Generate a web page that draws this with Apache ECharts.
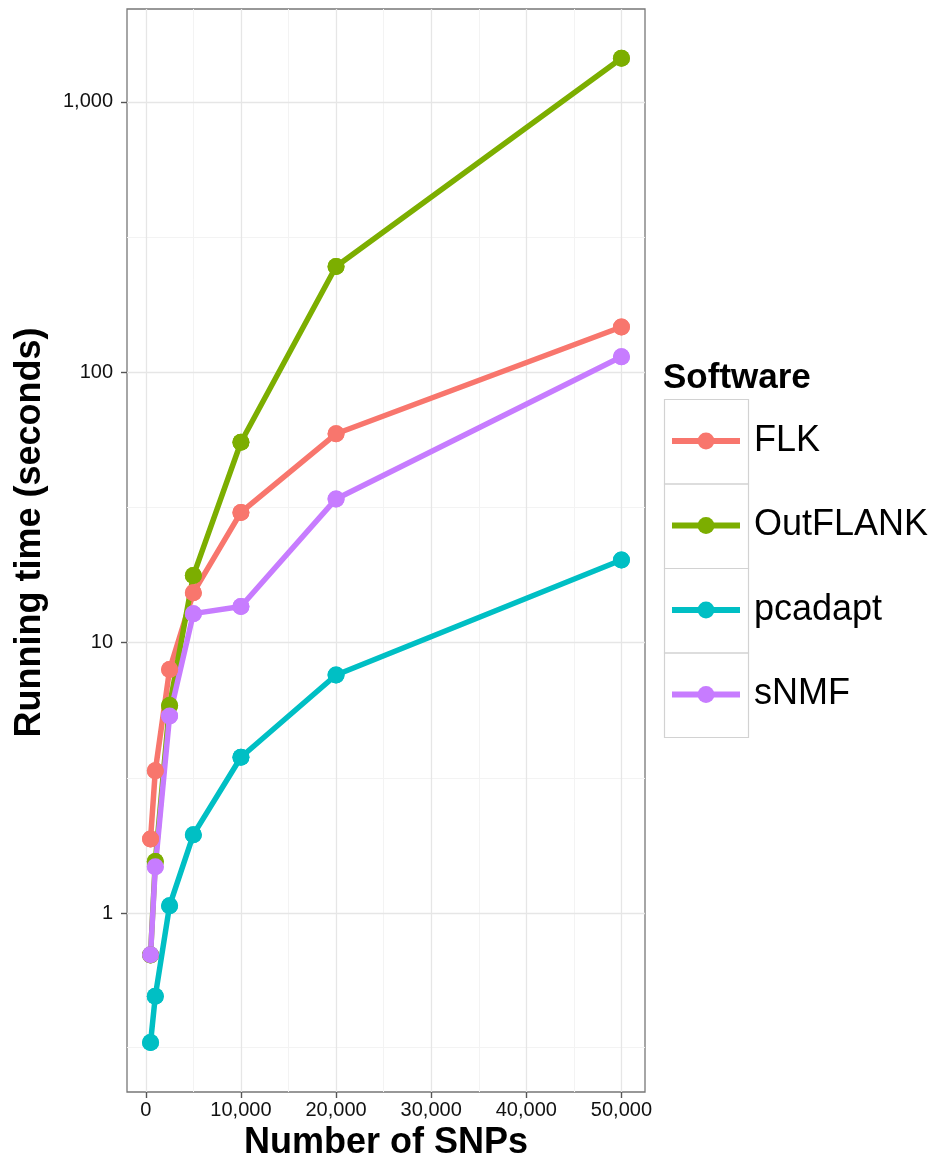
<!DOCTYPE html>
<html><head><meta charset="utf-8">
<script src="https://cdn.jsdelivr.net/npm/echarts@6/dist/echarts.min.js"></script>
<style>html,body{margin:0;padding:0;background:#fff}#c{width:935px;height:1168px}</style>
</head><body><div id="c"></div><script>
// ---- data ----
const snps = [500, 1000, 2500, 5000, 10000, 20000, 50000];
const software = ['FLK', 'OutFLANK', 'pcadapt', 'sNMF'];
const flk = [1.88, 3.36, 7.95, 15.3, 30.3, 59.2, 147];
const outflank = [0.70, 1.55, 5.85, 17.7, 55.1, 246, 1449];
const pcadapt = [0.332, 0.493, 1.065, 1.95, 3.77, 7.59, 20.2];
const snmf = [0.701, 1.485, 5.35, 12.8, 13.6, 34.0, 114];
const xTicks = [0, 10000, 20000, 30000, 40000, 50000];
const xMinor = [5000, 15000, 25000, 35000, 45000];
const yTicks = [1, 10, 100, 1000];
const yMinor = [0.3162, 3.162, 31.62, 316.2];
const colors = ['#F8766D', '#7CAE00', '#00BFC4', '#C77CFF'];
const values = [flk, outflank, pcadapt, snmf];

const FONT = 'Liberation Sans, Arial, Helvetica, sans-serif';
const chart = echarts.init(document.getElementById('c'), null, {renderer: 'canvas'});

const pairs = v => snps.map((x, i) => [x, v[i]]);
const series = [];
const gl = [];
xMinor.forEach(v => gl.push({xAxis: v, lineStyle: {color: '#F3F3F3', width: 1}}));
yMinor.forEach(v => gl.push({yAxis: v, lineStyle: {color: '#F3F3F3', width: 1}}));
xTicks.forEach(v => gl.push({xAxis: v, lineStyle: {color: '#E6E6E6', width: 1.3}}));
yTicks.forEach(v => gl.push({yAxis: v, lineStyle: {color: '#E6E6E6', width: 1.3}}));
series.push({
  type: 'line', name: '__grid', data: [], z: 0, silent: true,
  markLine: {silent: true, symbol: 'none', z: 0, animation: false,
    label: {show: false}, lineStyle: {type: 'solid'}, data: gl}
});
software.forEach((s, i) => {
  series.push({
    type: 'line', name: s, data: pairs(values[i]), z: 2,
    symbol: 'circle', symbolSize: 17, showSymbol: true,
    lineStyle: {width: 5.5, color: colors[i]},
    itemStyle: {color: colors[i]},
    emphasis: {disabled: true}
  });
});
software.forEach((s, i) => {
  series.push({
    type: 'scatter', name: s, data: pairs(values[i]), z: 3,
    symbol: 'circle', symbolSize: 17,
    itemStyle: {color: colors[i], opacity: 1},
    emphasis: {disabled: true}
  });
});

chart.setOption({
  animation: false,
  backgroundColor: '#ffffff',
  color: colors,
  textStyle: {fontFamily: FONT},
  grid: {left: 127, right: 290, top: 9, bottom: 76, show: true,
    borderColor: '#777777', borderWidth: 1.3, backgroundColor: 'transparent', containLabel: false},
  title: {text: 'Software', left: 663, top: 361, padding: 0,
    textStyle: {fontFamily: FONT, fontSize: 35, fontWeight: 'bold', color: '#000'}},
  legend: {
    orient: 'vertical', left: 669, top: 419, data: software, selectedMode: false,
    itemWidth: 68, itemHeight: 21, itemGap: 40.5, padding: 0,
    lineStyle: {width: 6},
    textStyle: {fontFamily: FONT, fontSize: 36, color: '#000', lineHeight: 44, padding: [0, 0, 0, 9]}
  },
  graphic: software.map((s, i) => ({
    type: 'rect', z: 0, silent: true,
    shape: {x: 664.5, y: 399.5 + 84.5 * i, width: 84, height: 84.5},
    style: {fill: 'none', stroke: '#D2D2D2', lineWidth: 1.2}
  })),
  xAxis: {
    type: 'value', min: -1975, max: 52475,
    name: 'Number of SNPs', nameLocation: 'middle', nameGap: 29,
    nameTextStyle: {fontFamily: FONT, fontSize: 36, fontWeight: 'bold', color: '#000'},
    axisLine: {show: false, onZero: false},
    axisTick: {show: true, length: 6, customValues: xTicks, lineStyle: {color: '#555', width: 1.4}},
    axisLabel: {customValues: xTicks, fontSize: 20, color: '#111', margin: 8, fontFamily: FONT,
      formatter: v => Math.round(v).toLocaleString('en-US')},
    splitLine: {show: false}
  },
  yAxis: {
    type: 'log', logBase: 10, min: 0.218, max: 2203,
    name: 'Running time (seconds)', nameLocation: 'middle', nameGap: 79,
    nameTextStyle: {fontFamily: FONT, fontSize: 36, fontWeight: 'bold', color: '#000', padding: [0, 0, 0, 36]},
    axisLine: {show: false, onZero: false},
    axisTick: {show: true, length: 6, customValues: yTicks, lineStyle: {color: '#555', width: 1.4}},
    axisLabel: {customValues: yTicks, fontSize: 20, color: '#111', margin: 14, fontFamily: FONT,
      formatter: v => Math.round(v).toLocaleString('en-US')},
    splitLine: {show: false}
  },
  series: series
});
</script></body></html>
